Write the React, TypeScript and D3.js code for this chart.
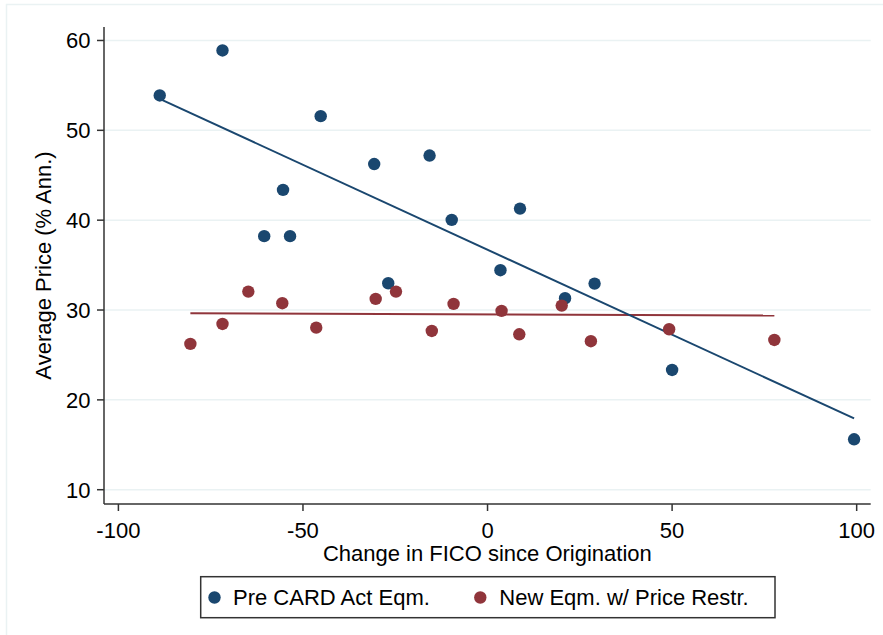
import React from "react";
import * as d3 from "d3";

const preX = [-88.8, -71.8, -45.2, -30.7, -55.4, -15.7, -60.5, -53.5, -9.7, 8.8, -26.9, 3.5, 21.0, 29.0, 50.0, 99.3];
const preY = [53.88, 58.89, 51.58, 46.25, 43.37, 47.19, 38.22, 38.22, 40.03, 41.29, 32.98, 34.43, 31.31, 32.94, 23.33, 15.61];
const newX = [-80.5, -71.8, -64.8, -55.6, -46.4, -30.3, -24.8, -15.1, -9.2, 3.8, 8.6, 20.1, 28.0, 49.2, 77.7];
const newY = [26.23, 28.45, 32.05, 30.76, 28.04, 31.24, 32.05, 27.67, 30.68, 29.9, 27.3, 30.49, 26.53, 27.86, 26.67];
const fitPreX = [-88.8, 99.3];
const fitPreY = [53.5, 17.93];
const fitNewX = [-80.5, 77.7];
const fitNewY = [29.64, 29.38];
const xTicks = [-100, -50, 0, 50, 100];
const yTicks = [10, 20, 30, 40, 50, 60];
const legendLabels = ["Pre CARD Act Eqm.", "New Eqm. w/ Price Restr."];

const BLUE = "#1a476f";
const RED = "#90353b";
const GRID = "#eaf2f3";
const AXIS = "#333333";
const FONT = "Arial, 'Liberation Sans', sans-serif";

export default function App() {
  const x = d3.scaleLinear().domain([-103.9, 103.8]).range([104, 870.7]);
  const y = d3.scaleLinear().domain([8.41, 61.5]).range([504, 27]);
  const line = d3
    .line<[number, number]>()
    .x((d) => x(d[0]))
    .y((d) => y(d[1]));
  const prePts = preX.map((v, i) => [v, preY[i]] as [number, number]);
  const newPts = newX.map((v, i) => [v, newY[i]] as [number, number]);
  const fitPre = fitPreX.map((v, i) => [v, fitPreY[i]] as [number, number]);
  const fitNew = fitNewX.map((v, i) => [v, fitNewY[i]] as [number, number]);
  const [x0, x1] = x.range();
  const [yb, yt] = y.range();

  return (
    <svg
      width={883}
      height={635}
      style={{ position: "absolute", left: 0, top: 0, background: "#fff" }}
      fontFamily={FONT}
    >
      <rect x={0} y={0} width={883} height={635} fill="#fff" />
      <rect x={6.5} y={4.5} width={900} height={660} fill="none" stroke={GRID} strokeWidth={1.5} />
      {yTicks.map((t) => (
        <line key={"g" + t} x1={x0} x2={x1} y1={y(t)} y2={y(t)} stroke={GRID} strokeWidth={1.5} />
      ))}
      <path d={line(fitNew) || ""} fill="none" stroke={RED} strokeWidth={2} />
      <path d={line(fitPre) || ""} fill="none" stroke={BLUE} strokeWidth={2} />
      {prePts.map((p, i) => (
        <circle key={"b" + i} cx={x(p[0])} cy={y(p[1])} r={6.2} fill={BLUE} />
      ))}
      {newPts.map((p, i) => (
        <circle key={"r" + i} cx={x(p[0])} cy={y(p[1])} r={6.2} fill={RED} />
      ))}
      {/* axes */}
      <line x1={x0} x2={x0} y1={yt} y2={yb} stroke={AXIS} strokeWidth={1.5} />
      <line x1={x0} x2={x1} y1={yb} y2={yb} stroke={AXIS} strokeWidth={1.5} />
      {yTicks.map((t) => (
        <g key={"yt" + t}>
          <line x1={x0 - 7} x2={x0} y1={y(t)} y2={y(t)} stroke={AXIS} strokeWidth={1.5} />
          <text x={90.5} y={y(t) + 7.8} textAnchor="end" fontSize={22} fill="#000">
            {t}
          </text>
        </g>
      ))}
      {xTicks.map((t) => (
        <g key={"xt" + t}>
          <line x1={x(t)} x2={x(t)} y1={yb} y2={yb + 7} stroke={AXIS} strokeWidth={1.5} />
          <text x={x(t)} y={538} textAnchor="middle" fontSize={22} fill="#000">
            {t}
          </text>
        </g>
      ))}
      <text x={(x0 + x1) / 2} y={561} textAnchor="middle" fontSize={22} fill="#000">
        Change in FICO since Origination
      </text>
      <text
        transform={`translate(51, ${(yt + yb) / 2}) rotate(-90)`}
        textAnchor="middle"
        fontSize={22}
        fill="#000"
      >
        Average Price (% Ann.)
      </text>
      {/* legend */}
      <rect x={200.7} y={576.7} width={574.3} height={41} fill="#fff" stroke={AXIS} strokeWidth={1.5} />
      <circle cx={214.5} cy={597.5} r={6.2} fill={BLUE} />
      <text x={233} y={605} fontSize={22} fill="#000">
        {legendLabels[0]}
      </text>
      <circle cx={480.3} cy={597.5} r={6.2} fill={RED} />
      <text x={499.3} y={605} fontSize={22} fill="#000">
        {legendLabels[1]}
      </text>
    </svg>
  );
}
